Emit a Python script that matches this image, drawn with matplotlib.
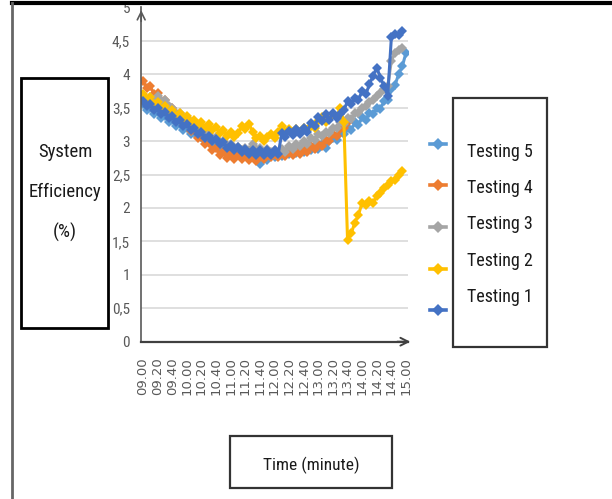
import matplotlib
matplotlib.use("Agg")
import matplotlib.pyplot as plt
from matplotlib.lines import Line2D
from matplotlib.patches import Rectangle
import numpy as np

# --- data (5-minute readings, 09.00 .. 15.00) ---
tick_labels = ["09.00", "09.20", "09.40", "10.00", "10.20", "10.40", "11.00",
               "11.20", "11.40", "12.00", "12.20", "12.40", "13.00", "13.20",
               "13.40", "14.00", "14.20", "14.40", "15.00"]

testing5 = [3.55, 3.47, 3.50, 3.41, 3.44, 3.35, 3.38, 3.29, 3.32, 3.23, 3.26, 3.17,
            3.20, 3.11, 3.14, 3.06, 3.09, 3.00, 3.03, 2.95, 2.98, 2.90, 2.93, 2.85,
            2.89, 2.80, 2.84, 2.76, 2.81, 2.74, 2.80, 2.72, 2.66, 2.76, 2.72, 2.80,
            2.76, 2.82, 2.78, 2.84, 2.80, 2.86, 2.82, 2.88, 2.84, 2.90, 2.86, 2.92,
            2.88, 2.95, 2.90, 3.00, 3.05, 3.02, 3.12, 3.10, 3.20, 3.16, 3.28, 3.24,
            3.36, 3.32, 3.42, 3.40, 3.50, 3.48, 3.60, 3.62, 3.78, 3.84, 4.00, 4.12,
            4.32]
testing4 = [3.90, 3.80, 3.82, 3.70, 3.72, 3.60, 3.62, 3.50, 3.50, 3.38, 3.40, 3.27,
            3.28, 3.15, 3.17, 3.05, 3.06, 2.95, 2.97, 2.86, 2.89, 2.79, 2.84, 2.75,
            2.82, 2.74, 2.81, 2.73, 2.80, 2.72, 2.79, 2.70, 2.78, 2.74, 2.80, 2.76,
            2.82, 2.76, 2.82, 2.77, 2.84, 2.79, 2.86, 2.81, 2.88, 2.84, 2.92, 2.88,
            2.96, 2.93, 3.02, 3.00, 3.10, 3.08, 3.18, 3.20, 3.28]
testing3 = [3.65, 3.62, 3.66, 3.62, 3.68, 3.60, 3.62, 3.52, 3.50, 3.42, 3.42, 3.34,
            3.34, 3.26, 3.26, 3.18, 3.19, 3.11, 3.12, 3.05, 3.06, 2.99, 3.00, 2.94,
            2.95, 2.89, 2.91, 2.86, 2.90, 2.86, 2.95, 2.88, 2.90, 2.84, 2.88, 2.83,
            2.86, 2.82, 2.88, 2.84, 2.92, 2.88, 2.96, 2.92, 3.00, 2.96, 3.04, 3.02,
            3.10, 3.08, 3.14, 3.12, 3.20, 3.20, 3.28, 3.26, 3.34, 3.33, 3.42, 3.42,
            3.50, 3.52, 3.58, 3.62, 3.68, 3.72, 3.78, 3.82, 4.20, 4.32, 4.36, 4.40]
testing2 = [3.70, 3.62, 3.66, 3.56, 3.58, 3.48, 3.52, 3.42, 3.46, 3.38, 3.42, 3.33,
            3.37, 3.28, 3.32, 3.24, 3.28, 3.20, 3.25, 3.16, 3.21, 3.12, 3.16, 3.08,
            3.14, 3.06, 3.12, 3.22, 3.18, 3.26, 3.14, 3.04, 3.08, 3.00, 3.06, 3.10,
            3.04, 3.14, 3.22, 3.14, 3.18, 3.12, 3.18, 3.14, 3.20, 3.16, 3.22, 3.20,
            3.30, 3.36, 3.28, 3.34, 3.40, 3.36, 3.50, 3.28, 1.52, 1.62, 1.78, 1.90,
            2.08, 2.04, 2.10, 2.08, 2.18, 2.22, 2.30, 2.35, 2.40, 2.42, 2.50, 2.56]
testing1 = [3.60, 3.52, 3.55, 3.47, 3.50, 3.41, 3.44, 3.35, 3.38, 3.29, 3.32, 3.23,
            3.26, 3.17, 3.20, 3.11, 3.14, 3.05, 3.08, 3.00, 3.03, 2.95, 2.98, 2.90,
            2.94, 2.86, 2.91, 2.83, 2.88, 2.80, 2.86, 2.79, 2.86, 2.79, 2.86, 2.79,
            2.86, 2.80, 3.12, 3.06, 3.15, 3.09, 3.18, 3.10, 3.20, 3.14, 3.27, 3.22,
            3.36, 3.30, 3.40, 3.32, 3.42, 3.34, 3.40, 3.46, 3.60, 3.55, 3.65, 3.62,
            3.75, 3.70, 3.85, 3.98, 4.10, 3.95, 3.82, 3.68, 4.55, 4.60, 4.58, 4.65]

names = ["Testing 5", "Testing 4", "Testing 3", "Testing 2", "Testing 1"]
colors = ["#5B9BD5", "#ED7D31", "#A5A5A5", "#FFC000", "#4472C4"]
series = [testing5, testing4, testing3, testing2, testing1]

W, H = 612, 499
narrow = ["Liberation Sans Narrow", "Roboto Condensed", "Open Sans Condensed",
          "Liberation Sans", "DejaVu Sans"]


def fx(x):
    return x / W


def fy(y):
    return 1 - y / H


fig = plt.figure(figsize=(W / 100, H / 100), dpi=100)
fig.patch.set_facecolor("white")

# plot area
ax = fig.add_axes([fx(141.2), fy(341.7), fx(407.8) - fx(141.2), fy(7.4) - fy(341.7)])
ax.set_facecolor("white")
for y in [0.5, 1, 1.5, 2, 2.5, 3, 3.5, 4, 4.5]:
    ax.axhline(y, color="#D9D9D9", lw=1.2, zorder=0)

for vals, c in zip(series, colors):
    ax.plot(np.arange(len(vals)), vals, color=c, lw=2.2, marker="D",
            markersize=5, markeredgewidth=0, zorder=2)

ax.set_xlim(-0.5, 72.5)
ax.set_ylim(0, 5)
ax.set_xticks(np.arange(0, 73, 4))
ax.set_xticklabels(tick_labels, rotation=90, fontsize=9.5, color="#595959",
                   family="DejaVu Sans", va="top")
ax.set_yticks([0, 0.5, 1, 1.5, 2, 2.5, 3, 3.5, 4, 4.5, 5])
ax.set_yticklabels(["0", "0,5", "1", "1,5", "2", "2,5", "3", "3,5", "4", "4,5", "5"],
                   fontsize=11, color="#595959", family=narrow)
ax.tick_params(length=0, pad=8)
ax.tick_params(axis="x", pad=11)
for s in ["top", "right"]:
    ax.spines[s].set_visible(False)
ax.spines["left"].set_color("#595959")
ax.spines["left"].set_linewidth(1.2)
ax.spines["bottom"].set_color("#404040")
ax.spines["bottom"].set_linewidth(1.6)

# axis arrows
ax.annotate("", xy=(1.02, 0), xytext=(0.95, 0), xycoords="axes fraction",
            arrowprops=dict(arrowstyle="->", lw=1.4, color="#404040",
                            mutation_scale=14), annotation_clip=False)
ax.annotate("", xy=(0, 1.0), xytext=(0, 0.95), xycoords="axes fraction",
            arrowprops=dict(arrowstyle="->", lw=1.2, color="#595959",
                            mutation_scale=14), annotation_clip=False)

# outer frame lines
fig.add_artist(Line2D([fx(12), fx(612)], [fy(3), fy(3)], color="black", lw=3))
fig.add_artist(Line2D([fx(12), fx(12)], [fy(3), fy(499)], color="#666666", lw=2))

# y label box
fig.add_artist(Rectangle((fx(21), fy(328)), fx(108) - fx(21), fy(78) - fy(328),
                         fill=False, ec="black", lw=2))
for txt, y in [("System", 152), ("Efficiency", 192), ("(%)", 232)]:
    fig.text(fx(65), fy(y), txt, ha="center", va="center", fontsize=13.5,
             family=narrow, color="#1a1a1a")

# legend
fig.add_artist(Rectangle((fx(453), fy(347)), fx(547) - fx(453), fy(98) - fy(347),
                         fill=False, ec="#333333", lw=1.6))
for c, y in zip(colors, [144, 185, 227, 269, 310]):
    fig.add_artist(Line2D([fx(430), fx(446)], [fy(y), fy(y)], color=c, lw=2.6))
    fig.add_artist(Line2D([fx(438)], [fy(y)], color=c, marker="D", markersize=6.5,
                          markeredgewidth=0, lw=0))
for name, y in zip(names, [152, 188, 224, 261, 297]):
    fig.text(fx(500), fy(y), name, ha="center", va="center", fontsize=13,
             family=narrow, color="#1a1a1a")

# x label box
fig.add_artist(Rectangle((fx(230), fy(488)), fx(392) - fx(230), fy(436) - fy(488),
                         fill=False, ec="#333333", lw=1.6))
fig.text(fx(311), fy(465), "Time (minute)", ha="center", va="center", fontsize=12.5,
         family=narrow, color="#1a1a1a")

fig.savefig("out.png", dpi=100, facecolor="white")
